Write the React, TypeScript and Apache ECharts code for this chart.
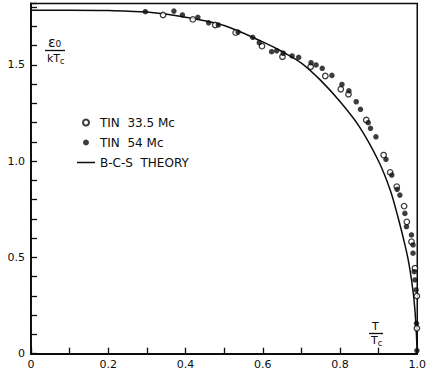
import React, { useEffect, useRef } from "react";
import * as echarts from "echarts";

// ---- data ----
const tin335T = [0.342, 0.419, 0.477, 0.530, 0.598, 0.651, 0.724, 0.762, 0.802, 0.822, 0.868, 0.913, 0.930, 0.947, 0.966, 0.973, 0.985, 0.994, 0.999, 0.999];
const tin335E = [1.760, 1.737, 1.708, 1.668, 1.598, 1.543, 1.491, 1.443, 1.374, 1.348, 1.214, 1.032, 0.942, 0.868, 0.767, 0.685, 0.582, 0.444, 0.300, 0.132];

const tin54T = [0.296, 0.370, 0.392, 0.432, 0.460, 0.485, 0.536, 0.574, 0.591, 0.623, 0.636, 0.653, 0.676, 0.693, 0.725, 0.738, 0.754, 0.779, 0.805, 0.823, 0.842, 0.853, 0.873, 0.879, 0.893, 0.919, 0.934, 0.948, 0.955, 0.968, 0.972, 0.985, 0.989, 0.989, 0.992, 0.994, 0.997, 0.998, 0.999];
const tin54E = [1.777, 1.780, 1.760, 1.748, 1.719, 1.708, 1.671, 1.644, 1.616, 1.569, 1.574, 1.561, 1.547, 1.540, 1.512, 1.500, 1.483, 1.446, 1.399, 1.366, 1.309, 1.270, 1.200, 1.171, 1.127, 1.010, 0.928, 0.854, 0.824, 0.729, 0.660, 0.617, 0.565, 0.522, 0.426, 0.383, 0.331, 0.158, 0.016];

const bcsT = [0, 0.1, 0.2, 0.3, 0.4, 0.5, 0.6, 0.65, 0.7, 0.75, 0.8, 0.85, 0.9, 0.93, 0.95, 0.97, 0.98, 0.99, 0.996, 1.0];
const bcsE = [1.785, 1.785, 1.783, 1.775, 1.748, 1.705, 1.62, 1.57, 1.51, 1.42, 1.31, 1.18, 1.0, 0.85, 0.71, 0.55, 0.45, 0.31, 0.17, 0];

const xLabelValues = [0, 0.2, 0.4, 0.6, 0.8, 1.0];
const xLabelTexts = ["0", "0.2", "0.4", "0.6", "0.8", "1.0"];
const yLabelValues = [0, 0.5, 1.0, 1.5];
const yLabelTexts = ["0", "0.5", "1.0", "1.5"];

const seriesNames = ["TIN  33.5 Mc", "TIN  54 Mc", "B-C-S  THEORY"];

const FONT = "DejaVu Sans";
const INK = "#0d0d0d";

function pick(values: number[], texts: string[]) {
  return (v: number) => {
    for (let i = 0; i < values.length; i++) {
      if (Math.abs(values[i] - v) < 1e-6) return texts[i];
    }
    return "";
  };
}

const zip = (a: number[], b: number[]) => a.map((v, i) => [v, b[i]]);

export default function App() {
  const ref = useRef<HTMLDivElement>(null);
  useEffect(() => {
    if (!ref.current) return;
    const chart = echarts.init(ref.current, undefined, { renderer: "svg" });
    chart.setOption({
      animation: false,
      backgroundColor: "#fff",
      grid: {
        left: 31,
        right: 6.5,
        top: 3.4,
        bottom: 23.3,
        show: true,
        borderColor: INK,
        borderWidth: 1.5,
      },
      xAxis: {
        type: "value",
        min: 0,
        max: 1,
        interval: 0.1,
        axisLine: { show: true, lineStyle: { color: INK, width: 1.8 } },
        axisTick: { show: true, inside: true, length: 6, lineStyle: { color: INK, width: 1.3 } },
        splitLine: { show: false },
        axisLabel: {
          formatter: pick(xLabelValues, xLabelTexts),
          color: INK,
          fontFamily: FONT,
          fontSize: 11,
          margin: 5,
          showMaxLabel: true,
          showMinLabel: true,
        },
      },
      yAxis: {
        type: "value",
        min: 0,
        max: 1.82,
        interval: 0.1,
        axisLine: { show: true, lineStyle: { color: INK, width: 1.8 } },
        axisTick: { show: true, inside: true, length: 6, lineStyle: { color: INK, width: 1.3 } },
        splitLine: { show: false },
        axisLabel: {
          formatter: pick(yLabelValues, yLabelTexts),
          color: INK,
          fontFamily: FONT,
          fontSize: 11,
          margin: 6,
        },
      },
      legend: {
        orient: "vertical",
        left: 77,
        top: 116,
        padding: 0,
        itemWidth: 18,
        itemHeight: 6,
        itemGap: 7,
        textStyle: { fontFamily: FONT, fontSize: 12, color: INK, lineHeight: 13 },
        data: [
          { name: seriesNames[0] },
          { name: seriesNames[1] },
          { name: seriesNames[2], icon: "path://M0,0H12V1H0Z" },
        ],
      },
      graphic: [
        {
          type: "text",
          left: 48,
          top: 35,
          style: { text: "ε₀", font: `14px ${FONT}`, fill: INK },
        },
        {
          type: "line",
          shape: { x1: 45, y1: 50.5, x2: 65, y2: 50.5 },
          style: { stroke: INK, lineWidth: 1.3 },
        },
        {
          type: "text",
          left: 47,
          top: 53,
          style: {
            text: "kT{s|c}",
            font: `11px ${FONT}`,
            fill: INK,
            rich: { s: { fontSize: 8, fontFamily: FONT, fill: INK, padding: [5, 0, 0, 0] } },
          },
        },
        {
          type: "text",
          left: 372,
          top: 321,
          style: { text: "T", font: `11px ${FONT}`, fill: INK },
        },
        {
          type: "line",
          shape: { x1: 369, y1: 333.5, x2: 383, y2: 333.5 },
          style: { stroke: INK, lineWidth: 1.3 },
        },
        {
          type: "text",
          left: 371,
          top: 335,
          style: {
            text: "T{s|c}",
            font: `11px ${FONT}`,
            fill: INK,
            rich: { s: { fontSize: 8, fontFamily: FONT, fill: INK, padding: [5, 0, 0, 0] } },
          },
        },
      ],
      series: [
        {
          name: seriesNames[0],
          type: "scatter",
          symbol: "circle",
          symbolSize: 5.5,
          itemStyle: { color: "#fff", borderColor: INK, borderWidth: 1.3 },
          data: zip(tin335T, tin335E),
          z: 3,
        },
        {
          name: seriesNames[1],
          type: "scatter",
          symbol: "circle",
          symbolSize: 5.5,
          itemStyle: { color: INK },
          data: zip(tin54T, tin54E),
          z: 4,
        },
        {
          name: seriesNames[2],
          type: "line",
          symbol: "none",
          showSymbol: false,
          smooth: 0.3,
          lineStyle: { color: INK, width: 1.5 },
          itemStyle: { color: INK },
          data: zip(bcsT, bcsE),
          z: 2,
        },
      ],
    });
    return () => chart.dispose();
  }, []);
  return (
    <div
      ref={ref}
      style={{ position: "fixed", left: 0, top: 0, width: 429, height: 377, background: "#fff" }}
    />
  );
}
